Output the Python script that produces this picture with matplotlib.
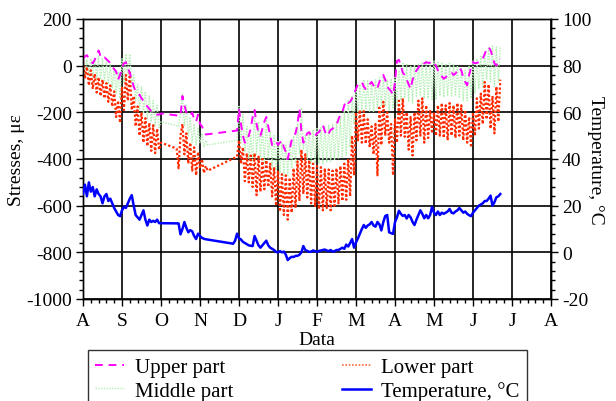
import matplotlib
matplotlib.use("Agg")
import matplotlib.pyplot as plt
from matplotlib.ticker import MultipleLocator
from matplotlib.lines import Line2D

plt.rcParams["font.family"] = ["Liberation Serif", "DejaVu Serif"]
plt.rcParams["axes.unicode_minus"] = False

# x is measured in months from 1 August, samples every STEP months
STEP = 0.05

month_labels = ["A", "S", "O", "N", "D", "J", "F", "M", "A", "M", "J", "J", "A"]

# stresses, microstrain: (segment start, values)
upper_segments = [
    (0.00, [30, 40, 45, 30, 20, 10, 25, 45, 65, 40,
            30, 35, 28, 20, 10, -5, -15, -25, -60, -40,
            -10, 10, 15, -10, -30, -60, -90, -110, -120, -125,
            -140, -150, -165, -175, -185, -195, -200, -205, -210, -210,
            -205]),
    (2.50, [-215, -130, -170, -200, -205, -215, -200, -230, -240, -210,
            -250, -260, -280, -295]),
    (3.95, [-278, -185, -250, -300, -330, -320, -300, -270, -220, -190,
            -250, -290, -300, -270, -240, -220, -260, -300, -340, -330,
            -325, -340, -330, -320, -350, -370, -400, -360, -320, -300,
            -290, -250, -185, -280, -330, -310, -290, -285, -300, -295,
            -300, -290, -285, -270, -255, -280, -300, -290, -275, -270,
            -260, -255, -230, -210, -200, -170, -150, -160, -155, -140,
            -120, -100, -80, -75, -70, -90, -100, -95, -80, -70,
            -85, -100, -95, -70, -45, -40, -60, -90, -100, -110,
            -125, -70, 20, 25, 0, -30, -40, -60, -80, -100,
            -60, -40, -20, -10, 10, 5, 10, 15, 12, 13,
            18, 15, 0, -20, -30, -45, -56, -50, -40, -35,
            -30, -40, -34, -20, -9, -20, -50, -70, -84, -40,
            -9, 16, 10, 12, 15, 20, 30, 50, 70, 80,
            66, 40, 10, 1, 20, 30]),
]

middle_segments = [
    (0.00, [20, -40, 25, -45, 30, -50, 35, -55, 40, -60,
            30, -70, 20, -80, 5, -95, -10, -120, -30, -140,
            30, -70, 50, -40, 50, -80, -40, -150, -80, -190,
            -90, -205, -110, -225, -130, -240, -150, -260, -170, -265,
            -240]),
    (2.45, [-260, -200, -120, -260, -170, -300, -220, -330, -250, -340,
            -270, -330, -290, -350, -320, -340]),
    (3.95, [-320, -175, -330, -210, -370, -260, -400, -300, -410, -190,
            -380, -240, -400, -270, -420, -220, -400, -280, -440, -300,
            -450, -320, -460, -330, -470, -340, -470, -320, -440, -300,
            -420, -250, -380, -180, -360, -300, -400, -280, -420, -275,
            -420, -270, -420, -265, -420, -260, -415, -255, -410, -250,
            -405, -240, -400, -220, -395, -190, -385, -150, -350, -130,
            -250, -100, -200, -80, -195, -60, -190, -65, -195, -70,
            -200, -60, -185, -50, -170, -45, -175, -60, -190, -55,
            -185, -50, -170, -20, -150, 10, -140, 5, -155, 0,
            -160, 5, -135, 10, -130, 15, -140, 20, -140, 15,
            -150, 20, -145, 15, -130, 10, -135, 10, -130, 10,
            -130, 5, -130, 0, -135, -10, -150, -20, -150, 0,
            -140, 20, -120, 30, -100, 40, -90, 60, -60, 80,
            -70, 85, -90, 80, -70, 85]),
]

lower_segments = [
    (0.00, [20, -55, -5, -85, -20, -100, -35, -115, -50, -130,
            -60, -140, -75, -155, -85, -175, -110, -220, -150, -245,
            -90, -190, -40, -150, -30, -190, -130, -260, -175, -300,
            -200, -330, -225, -345, -245, -365, -255, -375, -270, -360,
            -330]),
    (2.40, [-355, -440, -300, -250, -380, -290, -420, -330, -450, -350,
            -470, -370, -440, -400, -460, -430, -450]),
    (3.95, [-390, -320, -420, -350, -495, -375, -500, -385, -520, -375,
            -555, -390, -540, -400, -530, -405, -520, -420, -560, -435,
            -600, -450, -625, -465, -640, -470, -660, -480, -630, -440,
            -610, -410, -580, -360, -550, -380, -565, -405, -590, -420,
            -605, -430, -615, -435, -620, -440, -610, -445, -620, -450,
            -600, -440, -590, -430, -580, -420, -575, -400, -560, -300,
            -470, -200, -320, -190, -330, -195, -335, -230, -350, -260,
            -380, -250, -470, -180, -340, -155, -300, -200, -330, -250,
            -470, -230, -330, -150, -300, -140, -305, -200, -360, -220,
            -385, -200, -320, -150, -300, -140, -330, -170, -310, -190,
            -290, -200, -300, -170, -300, -160, -310, -170, -320, -160,
            -300, -170, -310, -160, -300, -170, -320, -190, -330, -220,
            -350, -200, -300, -140, -270, -120, -250, -70, -230, -80,
            -270, -130, -290, -90, -240, -60]),
]

# temperature, degrees C
temp_segments = [
    (0.00, [25, 29, 24, 30, 26, 28, 24, 27, 25, 24,
            21, 24, 25, 22, 23, 21, 19, 17.5, 16, 15.5,
            18, 19.5, 19, 21, 23, 24.5, 20, 16, 15, 14,
            16, 18, 14, 11.5, 14, 13, 13.5, 13, 14, 12.5]),
    (2.45, [12.4, 7.7, 10, 13, 10.5, 8.6, 9.5, 9, 7, 5.7,
            8, 7, 6.2, 5.8, 5.6]),
    (3.85, [3.7, 5, 8, 6, 5.5, 4.5, 4, 3.5, 3, 2.8,
            2.7, 7, 5, 3, 2, 3, 4, 5, 3, 2,
            1.5, 1, 0.2, 0, 0.5, 0, 0.3, -1, -3.3, -2.5,
            -1.9, -2, -1.5, -1.5, -1, 0, 2.7, 1, 0.6, 0.2,
            0.3, 0.8, 0.5, 0.2, 0.6, 0.8, 1, 1.2, 0.8, 0.5,
            1, 0.3, 0.5, 1, 1, 1.5, 2, 1.5, 3.3, 2.5,
            4, 5.7, 2, 4.3, 6, 8, 10, 11.7, 10.5, 11.5,
            12, 13, 11.5, 11, 13, 12, 9.4, 13, 15.6, 16,
            8.6, 8.2, 7.9, 13, 15, 17.8, 16.5, 15.6, 16, 14.5,
            16, 15, 13, 11.7, 14, 16, 18, 16.5, 14.6, 16,
            14.6, 16, 19.4, 17, 16, 17.5, 16, 17, 16.5, 17,
            17.5, 18.6, 17, 16.7, 17.5, 18, 19, 18, 17, 17.5,
            16.5, 15.9, 15.5, 17, 18, 19, 20, 20.5, 21, 22,
            22, 23, 24.3, 20, 21.5, 23.6, 24, 25]),
]


def expand(segments):
    xs, ys = [], []
    for start, vals in segments:
        for i, v in enumerate(vals):
            xs.append(start + STEP * i)
            ys.append(v)
    return xs, ys


fig = plt.figure(figsize=(6.16, 4.02), dpi=100)
ax = fig.add_axes([83 / 616, 1 - 300 / 402, 468 / 616, 280 / 402])

ux, uy = expand(upper_segments)
mx, my = expand(middle_segments)
lx, ly = expand(lower_segments)
tx, ty = expand(temp_segments)

ax.plot(mx, my, color="#b4f0b4", lw=1.0, linestyle=(0, (1, 1)), zorder=2)
ax.plot(lx, ly, color="#ff2a00", lw=1.6, linestyle=(0, (1, 1)), zorder=3)
ax.plot(ux, uy, color="#ff00ff", lw=1.4, linestyle=(0, (4, 3)), zorder=4)

ax.set_xlim(0, 12)
ax.set_ylim(-1000, 200)
ax.set_xticks(range(13))
ax.set_xticklabels(month_labels)
ax.xaxis.set_minor_locator(MultipleLocator(0.2))
ax.yaxis.set_major_locator(MultipleLocator(200))
ax.yaxis.set_minor_locator(MultipleLocator(40))
ax.grid(True, which="major", color="black", lw=1.2)
ax.set_axisbelow(True)

ax.tick_params(which="major", direction="out", length=5, width=1, labelsize=14, pad=3)
ax.tick_params(which="minor", direction="out", length=3, width=1)
ax.tick_params(axis="x", pad=4)
ax.set_xlabel("Data", fontsize=14, labelpad=2)
ax.set_ylabel("Stresses, με", fontsize=14, labelpad=1)

ax2 = ax.twinx()
ax2.plot(tx, ty, color="#0000ff", lw=1.8, zorder=5)
ax2.set_ylim(-20, 100)
ax2.yaxis.set_major_locator(MultipleLocator(20))
ax2.yaxis.set_minor_locator(MultipleLocator(4))
ax2.tick_params(which="major", direction="out", length=5, width=1, labelsize=14, pad=3)
ax2.tick_params(which="minor", direction="out", length=3, width=1)
ax2.set_ylabel("Temperature, °C", fontsize=14, rotation=270, labelpad=9, va="top")

for a in (ax, ax2):
    for s in a.spines.values():
        s.set_linewidth(1.0)

handles = [
    Line2D([], [], color="#ff00ff", lw=1.4, linestyle=(0, (4, 3))),
    Line2D([], [], color="#b4f0b4", lw=1.0, linestyle=(0, (1, 1))),
    Line2D([], [], color="#ff6a40", lw=1.2, linestyle=(0, (1, 1))),
    Line2D([], [], color="#0000ff", lw=1.8),
]
labels = ["Upper part", "Middle part", "Lower part", "Temperature, °C"]
leg = fig.legend(handles, labels, ncol=2, loc="upper left",
                 bbox_to_anchor=(88 / 616, 1 - 351 / 402),
                 fontsize=15, frameon=True, fancybox=False,
                 edgecolor="black", handlelength=1.4, handletextpad=0.5,
                 borderpad=0.35, labelspacing=0.2, columnspacing=5.2,
                 borderaxespad=0)
leg.get_frame().set_linewidth(1.0)

fig.savefig("out.png", dpi=100)
